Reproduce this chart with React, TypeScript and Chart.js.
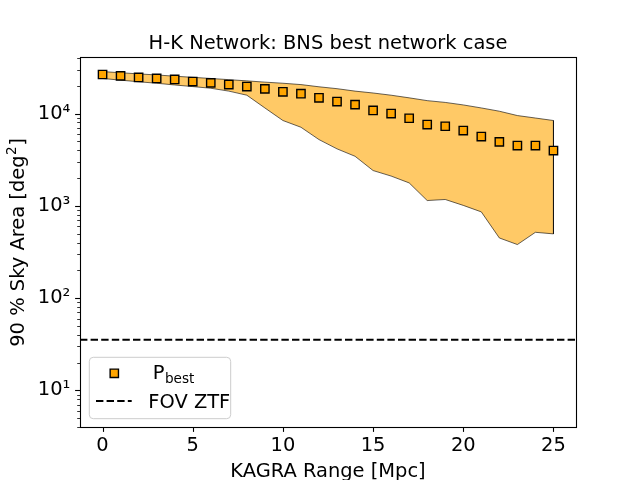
import React, { useEffect, useRef } from "react";
import { Chart, registerables } from "chart.js";

Chart.register(...registerables);

// ---- data ----
const kagraRange = [0, 1, 2, 3, 4, 5, 6, 7, 8, 9, 10, 11, 12, 13, 14, 15, 16, 17, 18, 19, 20, 21, 22, 23, 24, 25];
const pBest = [26500, 25600, 24600, 24000, 23400, 22200, 21500, 20600, 19600, 18500, 17200, 16400, 14800, 13500, 12500, 10800, 10000, 8890, 7600, 7280, 6540, 5630, 4930, 4500, 4500, 3970];
const bandUpper = [28500, 27700, 26900, 26200, 25400, 24700, 24000, 23300, 22600, 21900, 21300, 20600, 19500, 18600, 17500, 16700, 15800, 14800, 13800, 13200, 12400, 11500, 10600, 9510, 8940, 8400];
const bandLower = [24000, 23000, 22100, 21300, 20400, 19600, 18800, 17500, 15800, 11500, 8400, 7100, 5220, 4140, 3440, 2410, 2100, 1770, 1140, 1170, 1010, 859, 448, 380, 516, 496];
const ztfFov = 35.4;
const xTickValues = [0, 5, 10, 15, 20, 25];
const yTickValues = [10, 100, 1000, 10000];
const yTickLabels = ["10\u00b9", "10\u00b2", "10\u00b3", "10\u2074"];
const xLimits = [-1.25, 26.25];
const yLimits = [4, 40000];
const titleText = "H-K Network: BNS best network case";
const xLabelText = "KAGRA Range [Mpc]";
const yLabelMain = "90 % Sky Area [deg";
const yLabelSup = "2";
const yLabelEnd = "]";
const legendMain = "P";
const legendSub = "best";
const legendZtf = "FOV ZTF";

const FAMILY = "'DejaVu Sans', sans-serif";
const FS = 19.44;

function roundRect(ctx: CanvasRenderingContext2D, x: number, y: number, w: number, h: number, r: number) {
  ctx.beginPath();
  ctx.moveTo(x + r, y);
  ctx.lineTo(x + w - r, y);
  ctx.arcTo(x + w, y, x + w, y + r, r);
  ctx.lineTo(x + w, y + h - r);
  ctx.arcTo(x + w, y + h, x + w - r, y + h, r);
  ctx.lineTo(x + r, y + h);
  ctx.arcTo(x, y + h, x, y + h - r, r);
  ctx.lineTo(x, y + r);
  ctx.arcTo(x, y, x + r, y, r);
  ctx.closePath();
}

const decorPlugin = {
  id: "decor",
  afterDraw(chart: any) {
    const ctx: CanvasRenderingContext2D = chart.ctx;
    const { left, right, top, bottom } = chart.chartArea;
    const xs = chart.scales.x;
    const ys = chart.scales.y;
    ctx.save();

    // FOV ZTF horizontal dashed line
    const yz = ys.getPixelForValue(ztfFov);
    ctx.strokeStyle = "#000";
    ctx.lineWidth = 2;
    ctx.setLineDash([7.4, 3.2]);
    ctx.beginPath();
    ctx.moveTo(left, yz);
    ctx.lineTo(right, yz);
    ctx.stroke();
    ctx.setLineDash([]);

    // frame
    ctx.lineWidth = 1.1;
    ctx.strokeRect(Math.round(left) + 0.5, Math.round(top) - 0.5, Math.round(right - left), Math.round(bottom - top) + 1);

    // x ticks
    for (const v of xTickValues) {
      const px = Math.round(xs.getPixelForValue(v)) + 0.5;
      ctx.lineWidth = 1.1;
      ctx.beginPath();
      ctx.moveTo(px, bottom);
      ctx.lineTo(px, bottom + 4.9);
      ctx.stroke();
    }
    // y ticks (major + minor)
    for (let e = 0; e <= 5; e++) {
      for (let m = 1; m <= 9; m++) {
        const v = m * Math.pow(10, e);
        if (v < yLimits[0] || v > yLimits[1]) continue;
        const py = Math.round(ys.getPixelForValue(v)) + 0.5;
        const major = m === 1;
        ctx.lineWidth = major ? 1.1 : 0.8;
        ctx.beginPath();
        ctx.moveTo(left - (major ? 4.9 : 2.8), py);
        ctx.lineTo(left, py);
        ctx.stroke();
      }
    }

    // title and axis labels
    ctx.fillStyle = "#000";
    ctx.font = `${FS}px ${FAMILY}`;
    ctx.textAlign = "center";
    ctx.textBaseline = "alphabetic";
    ctx.fillText(titleText, (left + right) / 2, 48.5);
    ctx.fillText(xLabelText, (left + right) / 2, 476.5);

    // y label with superscript
    ctx.save();
    ctx.translate(23.5, (top + bottom) / 2);
    ctx.rotate(-Math.PI / 2);
    ctx.textAlign = "left";
    const bigFont = `${FS}px ${FAMILY}`;
    const smallFont = `${FS * 0.7}px ${FAMILY}`;
    ctx.font = bigFont;
    const w1 = ctx.measureText(yLabelMain).width;
    const w3 = ctx.measureText(yLabelEnd).width;
    ctx.font = smallFont;
    const w2 = ctx.measureText(yLabelSup).width;
    const total = w1 + w2 + w3 + 1;
    let cx = -total / 2;
    ctx.font = bigFont;
    ctx.fillText(yLabelMain, cx, 0);
    cx += w1 + 0.5;
    ctx.font = smallFont;
    ctx.fillText(yLabelSup, cx, -7.5);
    cx += w2 + 0.5;
    ctx.font = bigFont;
    ctx.fillText(yLabelEnd, cx, 0);
    ctx.restore();

    // legend
    const bx = 89.3, by = 357.3, bw = 141.4, bh = 61.4;
    roundRect(ctx, bx, by, bw, bh, 4);
    ctx.fillStyle = "rgba(255,255,255,0.8)";
    ctx.fill();
    ctx.strokeStyle = "#cccccc";
    ctx.lineWidth = 1;
    ctx.stroke();

    // marker handle
    const s = 8.33;
    ctx.fillStyle = "#FFA500";
    ctx.strokeStyle = "#000";
    ctx.lineWidth = 1.39;
    ctx.beginPath();
    ctx.rect(114.3 - s / 2, 373.3 - s / 2, s, s);
    ctx.fill();
    ctx.stroke();

    // dashed handle
    ctx.lineWidth = 2;
    ctx.setLineDash([7.4, 3.2]);
    ctx.beginPath();
    ctx.moveTo(96, 401);
    ctx.lineTo(131.7, 401);
    ctx.stroke();
    ctx.setLineDash([]);

    ctx.fillStyle = "#000";
    ctx.textAlign = "left";
    ctx.font = bigFont;
    ctx.fillText(legendMain, 152.7, 379.3);
    const pw = ctx.measureText(legendMain).width;
    ctx.font = smallFont;
    ctx.fillText(legendSub, 152.7 + pw + 0.5, 382.5);
    ctx.font = bigFont;
    ctx.fillText(legendZtf, 148.3, 407.7);

    ctx.restore();
  },
};

export default function App() {
  const ref = useRef<HTMLCanvasElement>(null);

  useEffect(() => {
    if (!ref.current) return;
    const squares = kagraRange.map((x, i) => ({ x, y: pBest[i] }));
    const upperPts = kagraRange.map((x, i) => ({ x, y: bandUpper[i] }));
    const lowerPts = kagraRange.map((x, i) => ({ x, y: bandLower[i] }));
    const outline = [...upperPts, ...lowerPts.slice().reverse(), upperPts[0]];

    const chart = new Chart(ref.current, {
      type: "line",
      data: {
        datasets: [
          {
            label: "P_best",
            data: squares,
            showLine: false,
            pointStyle: "rect",
            pointRadius: 5.89,
            pointBackgroundColor: "#FFA500",
            pointBorderColor: "#000",
            pointBorderWidth: 1.39,
            borderColor: "#000",
            backgroundColor: "#FFA500",
          },
          {
            label: "outline",
            data: outline,
            borderColor: "rgba(0,0,0,0.6)",
            borderWidth: 1,
            pointRadius: 0,
            fill: false,
            tension: 0,
          },
          {
            label: "upper",
            data: upperPts,
            borderColor: "rgba(0,0,0,0)",
            borderWidth: 0,
            backgroundColor: "rgba(255,165,0,0.6)",
            pointRadius: 0,
            fill: "+1",
            tension: 0,
          },
          {
            label: "lower",
            data: lowerPts,
            borderColor: "rgba(0,0,0,0)",
            borderWidth: 0,
            pointRadius: 0,
            fill: false,
            tension: 0,
          },
        ],
      },
      options: {
        animation: false,
        responsive: false,
        maintainAspectRatio: false,
        layout: { padding: { left: 0, right: 64, top: 58, bottom: 0 } },
        plugins: {
          legend: { display: false },
          title: { display: false },
          tooltip: { enabled: false },
        },
        scales: {
          x: {
            type: "linear",
            min: xLimits[0],
            max: xLimits[1],
            grid: { display: false, drawTicks: false },
            border: { display: false },
            ticks: {
              color: "#000",
              font: { family: FAMILY, size: FS },
              padding: 7.5,
              autoSkip: false,
              maxRotation: 0,
              callback: (v: any) => String(v),
            },
            afterBuildTicks: (s: any) => {
              s.ticks = xTickValues.map((v) => ({ value: v }));
            },
            afterFit: (s: any) => {
              s.height = 53;
            },
          },
          y: {
            type: "logarithmic",
            min: yLimits[0],
            max: yLimits[1],
            grid: { display: false, drawTicks: false },
            border: { display: false },
            ticks: {
              color: "#000",
              font: { family: FAMILY, size: FS },
              padding: 9.7,
              autoSkip: false,
              callback: (v: any) => {
                const idx = yTickValues.indexOf(Number(v));
                return idx >= 0 ? yTickLabels[idx] : "";
              },
            },
            afterBuildTicks: (s: any) => {
              s.ticks = yTickValues.map((v) => ({ value: v }));
            },
            afterFit: (s: any) => {
              s.width = 80;
            },
          },
        },
      } as any,
      plugins: [decorPlugin],
    });
    return () => chart.destroy();
  }, []);

  return (
    <div style={{ position: "absolute", left: 0, top: 0, width: 640, height: 480, background: "#fff" }}>
      <canvas ref={ref} width={640} height={480} style={{ display: "block", width: 640, height: 480 }} />
    </div>
  );
}
